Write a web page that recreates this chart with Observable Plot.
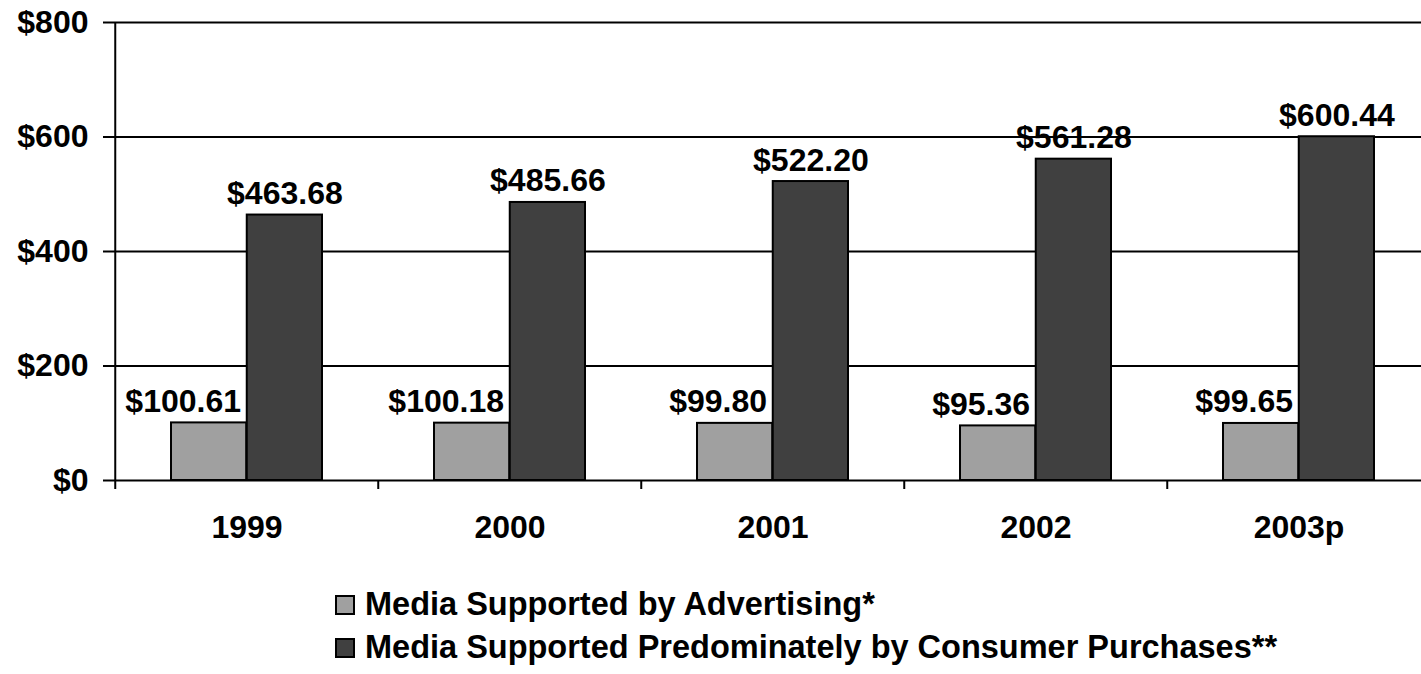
<!DOCTYPE html>
<html>
<head>
<meta charset="utf-8">
<script src="https://cdn.jsdelivr.net/npm/d3@7"></script>
<script src="https://cdn.jsdelivr.net/npm/@observablehq/plot@0.6"></script>
<style>
  html, body { margin: 0; padding: 0; background: #fff; overflow: hidden; }
  body { font-family: "Liberation Sans", Arial, sans-serif; }
  #legend { margin-left: 335px; margin-top: 13px; }
  .row { display: flex; align-items: center; height: 43px; }
  .sw { width: 20px; height: 20px; box-sizing: border-box; border: 2px solid #000; }
  .lab { margin-left: 10px; font-size: 32.5px; font-weight: bold; color: #000; white-space: nowrap; }
</style>
</head>
<body>
<div id="chart"></div>
<div id="legend"></div>
<script>
const years = ["1999", "2000", "2001", "2002", "2003p"];
const advertising = [100.61, 100.18, 99.80, 95.36, 99.65];
const consumer = [463.68, 485.66, 522.20, 561.28, 600.44];
const yTicks = [0, 200, 400, 600, 800];
const seriesNames = ["Media Supported by Advertising*", "Media Supported Predominately by Consumer Purchases**"];
const colors = ["#a0a0a0", "#404040"];

const advRows = years.map((year, i) => ({year, series: seriesNames[0], value: advertising[i]}));
const conRows = years.map((year, i) => ({year, series: seriesNames[1], value: consumer[i]}));

const W = 1421, H = 570;
const mL = 114, mR = -10.5, mT = 22, mB = 90;
const band = (W - mR - mL) / years.length;
const barW = 75.75;
const outer = band / 2 - barW;
const fmt = v => "$" + v.toFixed(2);
const font = {fontSize: 32, fontWeight: "bold", fill: "black"};
const sw = 2;

const chart = Plot.plot({
  width: W,
  height: H,
  marginLeft: mL,
  marginRight: mR,
  marginTop: mT,
  marginBottom: mB,
  style: {fontFamily: '"Liberation Sans", Arial, sans-serif', background: "white", overflow: "hidden"},
  x: {domain: years, padding: 0, axis: null},
  y: {domain: [0, 800], axis: null},
  color: {domain: seriesNames, range: colors},
  marks: [
    Plot.ruleY(yTicks, {stroke: "black", strokeWidth: sw}),
    Plot.axisY(yTicks, {label: null, tickSize: 11, tickPadding: 15, tickFormat: d => "$" + d, strokeWidth: sw, stroke: "black", ...font}),
    Plot.axisX({label: null, tickSize: 0, tickPadding: 35, ...font}),
    Plot.ruleX(years, {x: d => d, y1: 0, y2: 0, insetBottom: -9, dx: -band / 2, stroke: "black", strokeWidth: sw}),
    Plot.ruleX([years[0]], {x: d => d, dx: -band / 2, stroke: "black", strokeWidth: sw}),
    Plot.barY(advRows, {x: "year", y: "value", fill: "series", stroke: "black", strokeWidth: sw, insetLeft: outer, insetRight: band / 2}),
    Plot.barY(conRows, {x: "year", y: "value", fill: "series", stroke: "black", strokeWidth: sw, insetLeft: band / 2, insetRight: outer}),
    Plot.text(advRows, {x: "year", y: "value", text: d => fmt(d.value), textAnchor: "end", lineAnchor: "bottom", dx: -6, dy: -11, ...font}),
    Plot.text(conRows, {x: "year", y: "value", text: d => fmt(d.value), textAnchor: "middle", lineAnchor: "bottom", dx: barW / 2, dy: -11, ...font})
  ]
});
document.getElementById("chart").appendChild(chart);

const legend = document.getElementById("legend");
seriesNames.forEach((name, i) => {
  const row = document.createElement("div");
  row.className = "row";
  const box = document.createElement("div");
  box.className = "sw";
  box.style.background = colors[i];
  const lab = document.createElement("span");
  lab.className = "lab";
  lab.textContent = name;
  row.appendChild(box);
  row.appendChild(lab);
  legend.appendChild(row);
});
</script>
</body>
</html>
